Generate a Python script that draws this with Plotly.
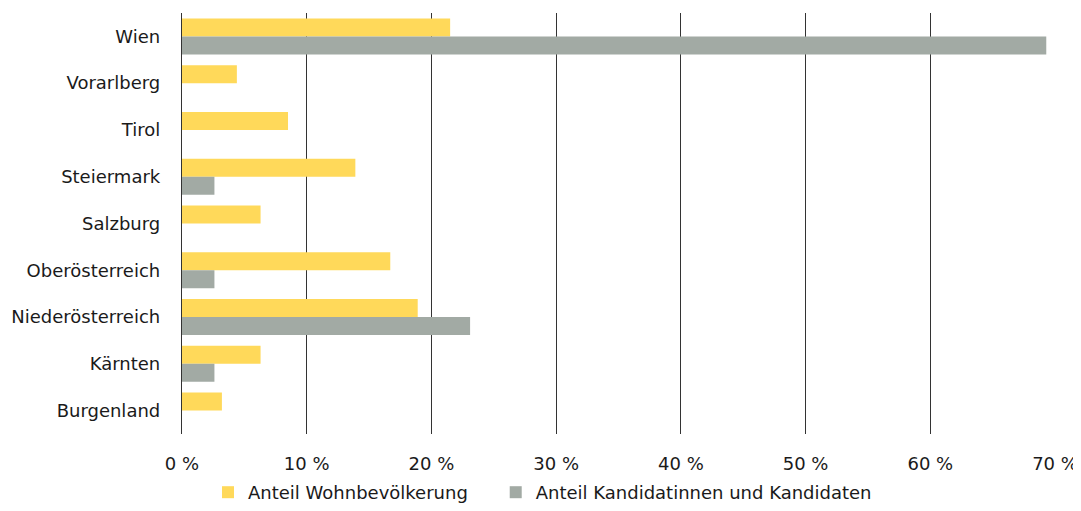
import plotly.graph_objects as go

categories = ["Wien", "Vorarlberg", "Tirol", "Steiermark", "Salzburg",
              "Oberösterreich", "Niederösterreich", "Kärnten", "Burgenland"]
wohnbevoelkerung = [21.5, 4.4, 8.5, 13.9, 6.3, 16.7, 18.9, 6.3, 3.2]
kandidaten = [69.3, 0, 0, 2.6, 0, 2.6, 23.1, 2.6, 0]
tick_vals = [0, 10, 20, 30, 40, 50, 60, 70]
tick_text = ["0 %", "10 %", "20 %", "30 %", "40 %", "50 %", "60 %", "70 %"]
series_names = ["Anteil Wohnbevölkerung", "Anteil Kandidatinnen und Kandidaten"]

fig = go.Figure()
fig.add_trace(go.Bar(y=categories, x=wohnbevoelkerung, orientation="h",
                     name=series_names[0] + "\u00a0" * 4, marker_color="#FFD95A",
                     marker_line_width=0))
fig.add_trace(go.Bar(y=categories, x=kandidaten, orientation="h",
                     name=series_names[1], marker_color="#A2AAA4",
                     marker_line_width=0))

fig.update_layout(
    width=1073, height=503,
    margin=dict(l=174, r=26, t=5, b=77),
    paper_bgcolor="white", plot_bgcolor="white",
    barmode="group", bargap=0.23, bargroupgap=0,
    font=dict(family="DejaVu Sans", size=18, color="#1a1a1a"),
    showlegend=True,
    legend=dict(orientation="h", x=0.0298, xanchor="left",
                yref="container", y=-0.016, yanchor="bottom",
                font=dict(size=18), traceorder="normal"),
    xaxis=dict(range=[0, 70], tickvals=tick_vals, ticktext=tick_text,
               showgrid=True, gridcolor="#333333", gridwidth=1.3,
               zeroline=False, showline=False, ticks="", ticklabelstandoff=17,
               automargin=False),
    yaxis=dict(autorange="reversed", showgrid=False, ticks="",
               showline=True, linecolor="#333333", linewidth=1.3,
               ticklabelstandoff=17, automargin=False),
)
fig.write_html("out.html")
